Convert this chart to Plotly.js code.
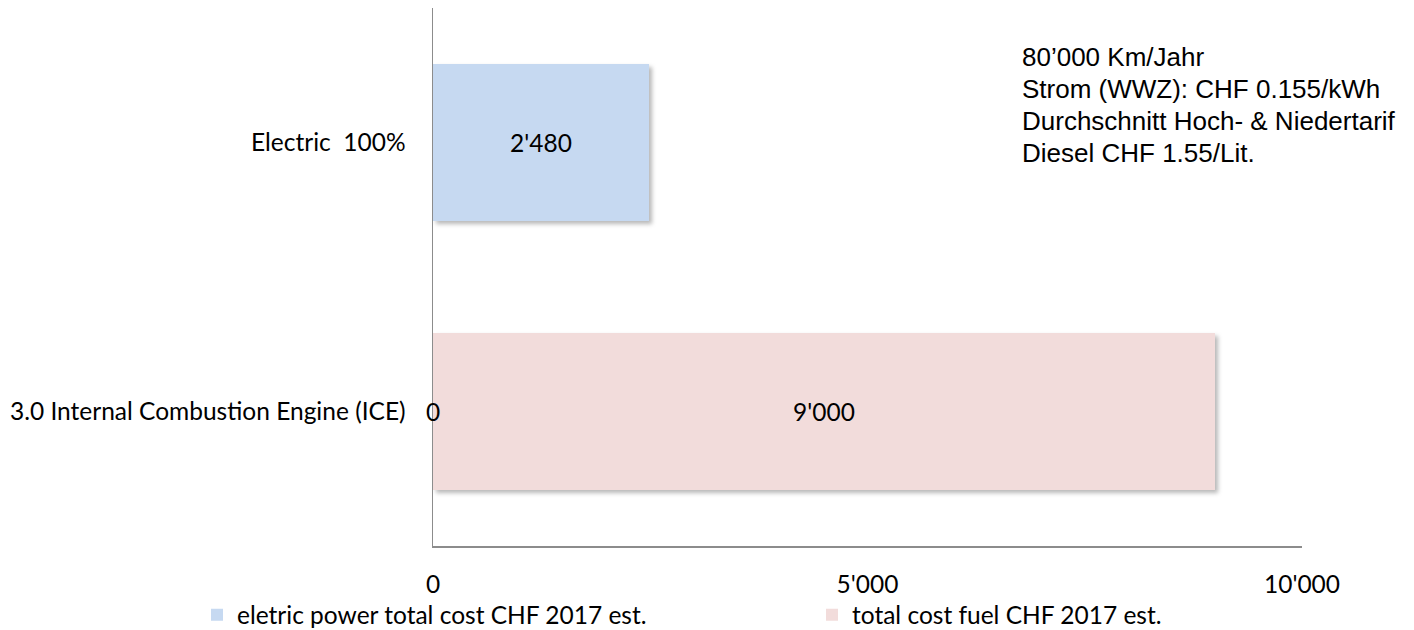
<!DOCTYPE html>
<html>
<head>
<meta charset="utf-8">
<script src="https://cdn.plot.ly/plotly-3.0.1.min.js"></script>
<style>
html,body{margin:0;padding:0;background:#fff;}
#chart{width:1414px;height:630px;}
.barlayer .point path{filter:drop-shadow(3px 3px 2px rgba(0,0,0,0.28));}
</style>
</head>
<body>
<div id="chart"></div>
<script>
// ---- data ----
var categories = ["3.0 Internal Combustion Engine (ICE)", "Electric\u00a0 100%"];
var seriesNames = ["eletric power total cost CHF 2017 est.", "total cost fuel CHF 2017 est."];
var electricCost = [0, 2480];
var fuelCost = [9000, null];
var xTickVals = [0, 5000, 10000];
var noteLines = ["80\u2019000 Km/Jahr", "Strom (WWZ): CHF 0.155/kWh", "Durchschnitt Hoch- & Niedertarif", "Diesel CHF 1.55/Lit."];

var colors = ["#C6D9F1", "#F2DCDB"];
var labelFont = {family: "Lato, 'Open Sans', sans-serif", size: 24.5, color: "#000"};
var noteFont = {family: "'Liberation Sans', Arial, sans-serif", size: 26, color: "#000"};

function fmt(v){ return String(v).replace(/\B(?=(\d{3})+(?!\d))/g, "'"); }

var legendIds = ["legend", "legend2"];
var series = [electricCost, fuelCost];
var traces = series.map(function(vals, i){
  return {
    type: "bar", orientation: "h", name: seriesNames[i],
    y: categories, x: vals,
    marker: {color: colors[i]},
    legend: legendIds[i],
    hoverinfo: "skip"
  };
});

// data labels, centred in each stacked segment
var annotations = [];
categories.forEach(function(cat, ci){
  var base = 0;
  series.forEach(function(vals){
    var v = vals[ci];
    if (v !== null && v !== undefined) {
      annotations.push({
        x: base + v/2, y: cat, xref: "x", yref: "y",
        text: fmt(v), showarrow: false, font: labelFont
      });
      base += v;
    }
  });
});

// note text block (one annotation per line)
var plotTop = 8, plotH = 538;
var noteCenters = [57, 89, 121, 153];
noteLines.forEach(function(line, i){
  annotations.push({
    xref: "paper", yref: "paper", x: 0.6755, y: 1 - (noteCenters[i] - plotTop) / plotH,
    xanchor: "left", yanchor: "middle", align: "left", showarrow: false,
    text: line, font: noteFont
  });
});

function legendAt(xpx){
  return {
    orientation: "h", xref: "container", yref: "container",
    x: xpx / 1414, y: 0.024, xanchor: "left", yanchor: "middle",
    font: labelFont, bgcolor: "rgba(0,0,0,0)"
  };
}

var layout = {
  width: 1414, height: 630,
  margin: {l: 433, r: 112, t: 8, b: 84},
  paper_bgcolor: "#fff", plot_bgcolor: "#fff",
  barmode: "stack", bargap: 0.42,
  separators: ".'",
  font: labelFont,
  xaxis: {
    range: [0, 10000], tickvals: xTickVals, tickformat: ",",
    showgrid: false, zeroline: false, showline: true,
    linecolor: "#8c8c8c", linewidth: 1.5, ticks: "",
    ticklabelstandoff: 16, tickfont: labelFont, automargin: false
  },
  yaxis: {
    type: "category", categoryorder: "array", categoryarray: categories,
    showgrid: false, zeroline: false, showline: true,
    linecolor: "#8c8c8c", linewidth: 1.5, ticks: "",
    ticklabelstandoff: 21, tickfont: labelFont, automargin: false
  },
  showlegend: true,
  legend: legendAt(197),
  legend2: legendAt(812),
  annotations: annotations
};

Plotly.newPlot("chart", traces, layout, {displayModeBar: false, staticPlot: true});
</script>
</body>
</html>
